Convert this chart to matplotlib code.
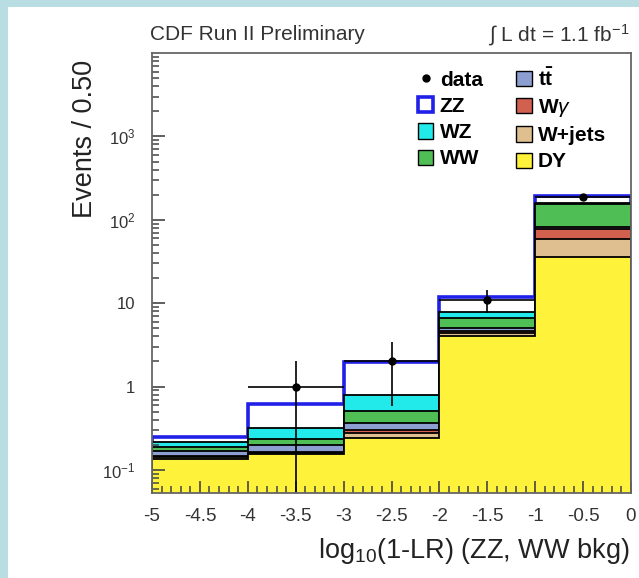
import numpy as np
import matplotlib
matplotlib.use("Agg")
import matplotlib.pyplot as plt
from matplotlib.patches import Patch, Rectangle
from matplotlib.lines import Line2D
from matplotlib.ticker import LogLocator, FixedLocator

# =========================
# DATA
# =========================
bin_edges = [-5, -4, -3, -2, -1, 0]

# stacked backgrounds, bottom to top
dy = [0.135, 0.155, 0.24, 4.0, 36]
wjets = [0.008, 0.006, 0.035, 0.35, 23]
wgamma = [0.005, 0.004, 0.025, 0.25, 19]
ttbar = [0.022, 0.035, 0.07, 0.5, 4]
ww = [0.02, 0.035, 0.14, 1.6, 74]
wz = [0.027, 0.085, 0.29, 1.1, 4]
zz = [0.035, 0.30, 1.15, 4.0, 34]

data_x = [-3.5, -2.5, -1.5, -0.5]
data_n = [1, 2, 11, 190]

x_ticks = [-5, -4.5, -4, -3.5, -3, -2.5, -2, -1.5, -1, -0.5, 0]
x_tick_labels = ["-5", "-4.5", "-4", "-3.5", "-3", "-2.5", "-2", "-1.5", "-1", "-0.5", "0"]
y_ticks = [0.1, 1, 10, 100, 1000]
y_tick_labels = [r"$10^{-1}$", "1", "10", r"$10^{2}$", r"$10^{3}$"]

# =========================
# STYLE
# =========================
plt.rcParams['font.family'] = ['Liberation Sans', 'DejaVu Sans']
plt.rcParams['mathtext.fontset'] = 'custom'
plt.rcParams['mathtext.rm'] = 'Liberation Sans'
plt.rcParams['mathtext.it'] = 'Liberation Sans:italic'
plt.rcParams['mathtext.bf'] = 'Liberation Sans:bold'

layers = [
    ("DY", dy, "#fff23a"),
    ("W+jets", wjets, "#dfbf8f"),
    (r"W$\gamma$", wgamma, "#d2604f"),
    (r"$\mathbf{t\bar{t}}$", ttbar, "#8c9fd0"),
    ("WW", ww, "#4fbf55"),
    ("WZ", wz, "#22eaea"),
    ("ZZ", zz, "white"),
]

fig = plt.figure(figsize=(6.39, 5.78), dpi=100)

# light blue frame on the left and top
fig.patches.append(Rectangle((0, 0), 8 / 639, 1, transform=fig.transFigure,
                             facecolor="#b8dde3", edgecolor="none"))
fig.patches.append(Rectangle((0, 1 - 7 / 578), 1, 7 / 578, transform=fig.transFigure,
                             facecolor="#b8dde3", edgecolor="none"))

ax = fig.add_axes([152 / 639, 85 / 578, 479 / 639, 440 / 578])
ax.set_yscale("log")

# =========================
# STACKED HISTOGRAM
# =========================
cumulative = []
running = np.zeros(len(dy))
for name, vals, col in layers:
    running = running + np.array(vals)
    cumulative.append((name, running.copy(), col))

# draw from the top of the stack down so lower layers sit on top
for name, cum, col in reversed(cumulative):
    if name == "ZZ":
        ax.stairs(cum, bin_edges, baseline=1e-3, fill=True,
                  facecolor="white", edgecolor="#2020e8", linewidth=2.6)
    else:
        ax.stairs(cum, bin_edges, baseline=1e-3, fill=True,
                  facecolor=col, edgecolor="black", linewidth=1.3)

# data points with poisson errors
data_n = np.array(data_n, dtype=float)
err = np.sqrt(data_n)
err_low = np.minimum(err, data_n - 1e-4)
ax.errorbar(data_x, data_n, yerr=[err_low, err], xerr=0.5, fmt="o",
            color="black", markersize=5, elinewidth=1.2, capsize=0)

# =========================
# AXES
# =========================
ax.set_xlim(-5, 0)
ax.set_ylim(0.053, 1.0e4)
ax.set_xticks(x_ticks)
ax.set_xticklabels(x_tick_labels)
ax.xaxis.set_minor_locator(FixedLocator(np.arange(-5, 0.01, 0.1)))
ax.set_yticks(y_ticks)
ax.set_yticklabels(y_tick_labels)
ax.yaxis.set_minor_locator(LogLocator(base=10, subs=np.arange(2, 10), numticks=30))
ax.tick_params(which="both", direction="in", top=False, right=False,
               color="#444444", labelcolor="#333333", zorder=5)
ax.tick_params(which="major", length=9, width=1.2)
ax.tick_params(which="minor", length=5, width=1.1)
ax.tick_params(axis="x", which="major", pad=11, labelsize=13.5)
ax.tick_params(axis="y", which="major", pad=12, labelsize=12)
ax.tick_params(axis="y", which="minor", labelleft=False)
for sp in ax.spines.values():
    sp.set_color("#666666")
    sp.set_linewidth(1.3)

fig.text(85 / 639, 1 - 60 / 578, "Events / 0.50", rotation=90,
         ha="center", va="top", fontsize=19.5, color="#222222")
fig.text(630 / 639, 1 - 551 / 578, r"log$_{10}$(1-LR) (ZZ, WW bkg)",
         ha="right", va="center", fontsize=19.5, color="#222222")
fig.text(150 / 639, 1 - 35 / 578, "CDF Run II Preliminary",
         ha="left", va="center", fontsize=15, color="#333333")
fig.text(630 / 639, 1 - 35 / 578, r"$\int$ L dt = 1.1 fb$^{-1}$",
         ha="right", va="center", fontsize=15, color="#333333")

# =========================
# LEGEND
# =========================
handles = {
    "data": Line2D([], [], marker="o", color="black", linestyle="none", markersize=5),
}
for name, vals, col in layers:
    if name == "ZZ":
        handles[name] = Patch(facecolor="white", edgecolor="#2020e8", linewidth=2.6)
    else:
        handles[name] = Patch(facecolor=col, edgecolor="black", linewidth=1.0)

order = ["data", "ZZ", "WZ", "WW", r"$\mathbf{t\bar{t}}$", r"W$\gamma$", "W+jets", "DY"]
leg = ax.legend([handles[k] for k in order], order, ncol=2, frameon=False,
                loc="upper left", bbox_to_anchor=(0.555, 0.968),
                borderaxespad=0, borderpad=0,
                prop={"weight": "bold", "size": 15}, handlelength=0.75,
                handleheight=0.75, handletextpad=0.3, columnspacing=1.6,
                labelspacing=0.35)

fig.savefig("out.png", dpi=100)
